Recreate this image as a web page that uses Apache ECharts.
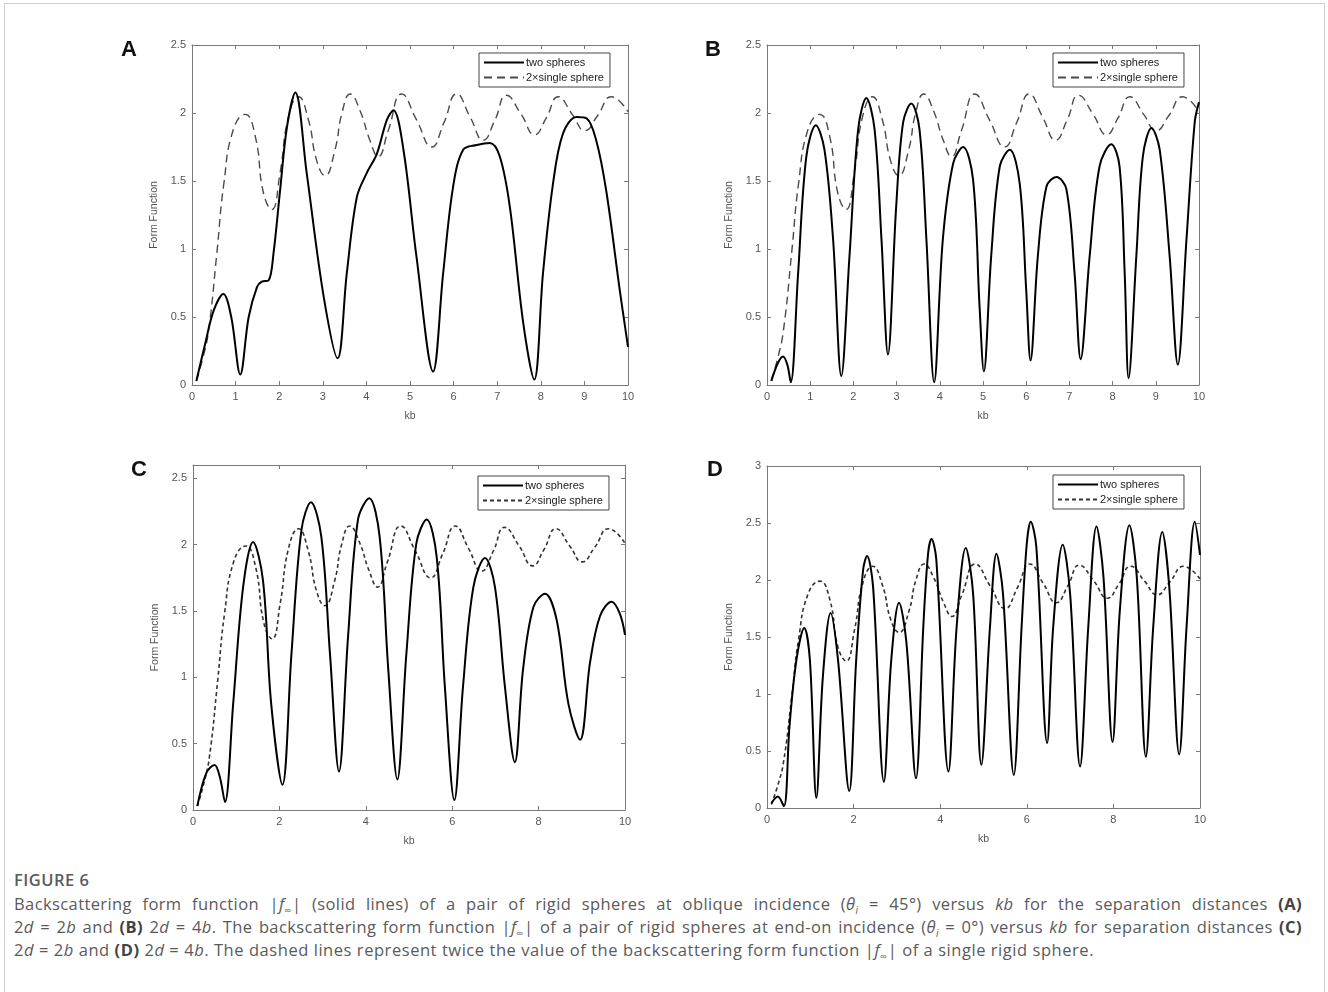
<!DOCTYPE html>
<html>
<head>
<meta charset="utf-8">
<script src="https://cdn.jsdelivr.net/npm/echarts@6/dist/echarts.min.js"></script>
<style>
  html, body { margin: 0; padding: 0; background: #fff; }
  body { width: 1328px; height: 992px; position: relative; overflow: hidden; }
  #frame { position: absolute; left: 4px; top: 3px; width: 1321px; height: 1000px; border: 1.5px solid #cfcfcf; box-sizing: border-box; }
  .panel { position: absolute; }
  #pA { left: 0; top: 0; width: 664px; height: 440px; }
  #pB { left: 664px; top: 0; width: 664px; height: 440px; }
  #pC { left: 0; top: 440px; width: 664px; height: 420px; }
  #pD { left: 664px; top: 440px; width: 664px; height: 420px; }
  .cap { position: absolute; left: 14px; width: 1288px; font-family: "Open Sans", Lato, sans-serif; color: #5a5a5a; font-size: 16.5px; letter-spacing: 0.55px; white-space: nowrap; }
  .cap.j { text-align: justify; text-align-last: justify; white-space: normal; letter-spacing: 0.4px; }
  .cap b { color: #444; }
  .cap sub { font-size: 10px; }
  #figt { top: 868px; font-size: 16.5px; font-weight: 600; letter-spacing: 0.5px; }
  #l1 { top: 892px; }
  #l2 { top: 915px; }
  #l3 { top: 938px; }
</style>
</head>
<body>
<div id="frame"></div>
<div id="pA" class="panel"></div>
<div id="pB" class="panel"></div>
<div id="pC" class="panel"></div>
<div id="pD" class="panel"></div>
<div id="figt" class="cap">FIGURE 6</div>
<div id="l1" class="cap j">Backscattering form function |<i>f</i><sub>∞</sub>| (solid lines) of a pair of rigid spheres at oblique incidence (<i>θ<sub>i</sub></i> = 45°) versus <i>kb</i> for the separation distances <b>(A)</b></div>
<div id="l2" class="cap j">2<i>d</i> = 2<i>b</i> and <b>(B)</b> 2<i>d</i> = 4<i>b</i>. The backscattering form function |<i>f</i><sub>∞</sub>| of a pair of rigid spheres at end-on incidence (<i>θ<sub>i</sub></i> = 0°) versus <i>kb</i> for separation distances <b>(C)</b></div>
<div id="l3" class="cap">2<i>d</i> = 2<i>b</i> and <b>(D)</b> 2<i>d</i> = 4<i>b</i>. The dashed lines represent twice the value of the backscattering form function |<i>f</i><sub>∞</sub>| of a single rigid sphere.</div>
<script>
// ---- data (kb, form function) ----
const seriesNames = ['two spheres', '2×single sphere'];
const panelLetters = ['A', 'B', 'C', 'D'];

const singleSphere2x = [[0.1,0.03],[0.25,0.2],[0.38,0.40],[0.57,0.97],[0.73,1.48],[0.95,1.88],[1.22,1.99],[1.45,1.83],[1.64,1.41],[1.83,1.29],[2.02,1.56],[2.21,1.97],[2.44,2.12],[2.67,1.95],[2.86,1.65],[3.05,1.54],[3.28,1.73],[3.44,2.0],[3.63,2.14],[3.85,2.02],[4.08,1.80],[4.27,1.68],[4.50,1.87],[4.81,2.14],[5.15,1.95],[5.50,1.75],[5.78,1.93],[6.07,2.14],[6.38,1.97],[6.68,1.80],[6.95,1.95],[7.21,2.13],[7.55,1.99],[7.86,1.84],[8.12,1.96],[8.40,2.12],[8.72,1.99],[9.01,1.87],[9.30,1.98],[9.62,2.12],[10,2.01]];

const twoSpheresA = [[0.1,0.03],[0.3,0.3],[0.5,0.55],[0.72,0.67],[0.9,0.5],[1.107,0.078],[1.3,0.5],[1.49,0.72],[1.6,0.76],[1.76,0.77],[1.87,0.97],[2.02,1.43],[2.18,1.90],[2.37,2.15],[2.63,1.56],[3.02,0.65],[3.34,0.196],[3.55,0.82],[3.78,1.38],[4.01,1.56],[4.24,1.70],[4.47,1.95],[4.62,2.02],[4.85,1.73],[5.15,0.94],[5.53,0.10],[5.76,0.82],[5.99,1.46],[6.22,1.73],[6.53,1.765],[6.83,1.78],[7.06,1.68],[7.29,1.31],[7.60,0.45],[7.85,0.04],[8.05,0.82],[8.28,1.48],[8.51,1.85],[8.82,1.97],[9.05,1.96],[9.27,1.80],[9.50,1.43],[9.81,0.70],[10,0.28]];

const twoSpheresB = [[0.1,0.03],[0.25,0.16],[0.37,0.21],[0.47,0.15],[0.55,0.02],[0.72,0.82],[0.91,1.68],[1.13,1.91],[1.33,1.73],[1.53,1.07],[1.72,0.066],[1.91,0.95],[2.11,1.88],[2.30,2.11],[2.49,1.88],[2.65,1.07],[2.80,0.225],[2.99,1.31],[3.15,1.93],[3.34,2.07],[3.53,1.88],[3.69,1.07],[3.87,0.02],[4.07,1.07],[4.31,1.63],[4.54,1.75],[4.77,1.51],[4.92,0.58],[5.02,0.10],[5.19,0.95],[5.39,1.61],[5.62,1.73],[5.85,1.48],[6.00,0.70],[6.10,0.18],[6.27,0.95],[6.47,1.46],[6.70,1.53],[6.93,1.44],[7.12,0.82],[7.26,0.19],[7.47,0.95],[7.70,1.61],[7.97,1.77],[8.16,1.61],[8.28,0.82],[8.37,0.05],[8.55,0.95],[8.70,1.68],[8.90,1.89],[9.09,1.73],[9.32,0.95],[9.51,0.15],[9.71,1.07],[9.90,1.93],[10,2.08]];

const twoSpheresC = [[0.1,0.03],[0.31,0.28],[0.50,0.34],[0.62,0.25],[0.74,0.06],[0.93,0.80],[1.16,1.68],[1.39,2.02],[1.62,1.73],[1.81,0.80],[2.07,0.19],[2.28,1.18],[2.51,2.11],[2.73,2.32],[2.97,2.06],[3.17,1.18],[3.38,0.29],[3.59,1.31],[3.82,2.19],[4.08,2.35],[4.32,2.06],[4.52,1.06],[4.73,0.23],[4.94,1.18],[5.17,2.01],[5.41,2.19],[5.64,1.91],[5.83,0.93],[6.05,0.075],[6.25,0.93],[6.49,1.68],[6.76,1.90],[6.99,1.68],[7.22,0.93],[7.45,0.36],[7.64,1.06],[7.88,1.53],[8.15,1.63],[8.42,1.43],[8.69,0.80],[8.96,0.53],[9.19,1.11],[9.42,1.46],[9.69,1.57],[9.88,1.48],[10,1.32]];

const twoSpheresD = [[0.1,0.04],[0.25,0.10],[0.39,0.015],[0.52,0.72],[0.68,1.30],[0.86,1.58],[0.99,1.30],[1.14,0.09],[1.29,1.15],[1.47,1.71],[1.64,1.30],[1.90,0.15],[2.06,1.30],[2.22,2.09],[2.31,2.21],[2.45,1.94],[2.70,0.23],[2.87,1.30],[3.05,1.80],[3.22,1.45],[3.44,0.26],[3.61,1.59],[3.72,2.23],[3.80,2.36],[3.91,2.18],[4.19,0.32],[4.38,1.59],[4.59,2.28],[4.76,1.88],[4.95,0.38],[5.15,1.59],[5.30,2.23],[5.45,1.88],[5.70,0.29],[5.88,1.59],[6.00,2.32],[6.09,2.51],[6.22,2.29],[6.47,0.57],[6.61,1.59],[6.83,2.31],[7.00,1.88],[7.23,0.365],[7.42,1.59],[7.61,2.47],[7.77,2.03],[7.98,0.58],[8.15,1.74],[8.37,2.48],[8.54,2.03],[8.75,0.45],[8.92,1.59],[9.13,2.42],[9.29,1.94],[9.52,0.47],[9.69,1.59],[9.88,2.51],[10,2.22]];

// ---- axis settings per panel ----
const xIntervals = [1, 1, 2, 2];
const yMaxes = [2.5, 2.5, 2.6, 3];

const panels = [
  { id: 'pA', data: twoSpheresA, grid: { left: 192, top: 45, width: 436, height: 340 }, legend: { left: 479, top: 53 }, dash: [8, 5], dashColor: '#4a4a4a', dashWidth: 1.4, title: { left: 116, top: 34 } },
  { id: 'pB', data: twoSpheresB, grid: { left: 103, top: 45, width: 432, height: 340 }, legend: { left: 389, top: 53 }, dash: [8, 5], dashColor: '#4a4a4a', dashWidth: 1.4, title: { left: 36, top: 34 } },
  { id: 'pC', data: twoSpheresC, grid: { left: 193, top: 25, width: 432, height: 345 }, legend: { left: 478, top: 36 }, dash: [4, 3], dashColor: '#333', dashWidth: 1.6, title: { left: 126, top: 14 } },
  { id: 'pD', data: twoSpheresD, grid: { left: 103, top: 26, width: 433, height: 342 }, legend: { left: 389, top: 35 }, dash: [4, 3], dashColor: '#333', dashWidth: 1.6, title: { left: 38, top: 14 } }
];

const axisGray = '#7a7a7a';
const labelStyle = { color: '#555', fontSize: 11, fontFamily: 'Liberation Sans, Arial, sans-serif' };

function xAxisCfg(i, pos) {
  const base = {
    type: 'value', min: 0, max: 10, interval: xIntervals[i], position: pos,
    axisLine: { show: true, onZero: false, lineStyle: { color: axisGray, width: 1 } },
    axisTick: { show: true, inside: true, length: 4, lineStyle: { color: axisGray } },
    splitLine: { show: false }
  };
  if (pos === 'bottom') {
    base.axisLabel = Object.assign({ margin: 6 }, labelStyle);
    base.name = 'kb';
    base.nameLocation = 'middle';
    base.nameGap = 26;
    base.nameTextStyle = Object.assign({}, labelStyle, { fontSize: 10.5 });
  } else {
    base.axisLabel = { show: false };
  }
  return base;
}
function yAxisCfg(i, pos) {
  const base = {
    type: 'value', min: 0, max: yMaxes[i], interval: 0.5, position: pos,
    axisLine: { show: true, onZero: false, lineStyle: { color: axisGray, width: 1 } },
    axisTick: { show: true, inside: true, length: 4, lineStyle: { color: axisGray } },
    splitLine: { show: false }
  };
  if (pos === 'left') {
    base.axisLabel = Object.assign({ margin: 6, showMaxLabel: yMaxes[i] % 0.5 === 0,
      formatter: v => (Math.abs(v / 0.5 - Math.round(v / 0.5)) < 1e-6 ? String(+v.toFixed(1)) : '') }, labelStyle);
    base.name = 'Form Function';
    base.nameLocation = 'middle';
    base.nameGap = 30;
    base.nameTextStyle = Object.assign({}, labelStyle, { fontSize: 10.5 });
  } else {
    base.axisLabel = { show: false };
  }
  return base;
}

panels.forEach((p, i) => {
  const chart = echarts.init(document.getElementById(p.id), null, { renderer: 'canvas' });
  chart.setOption({
    animation: false,
    backgroundColor: 'transparent',
    title: { text: panelLetters[i], left: p.title.left, top: p.title.top, textStyle: { fontSize: 22, fontWeight: 'bold', color: '#111', fontFamily: 'Liberation Sans, Arial, sans-serif' } },
    grid: p.grid,
    xAxis: [xAxisCfg(i, 'bottom'), xAxisCfg(i, 'top')],
    yAxis: [yAxisCfg(i, 'left'), yAxisCfg(i, 'right')],
    legend: {
      data: seriesNames, orient: 'vertical', left: p.legend.left, top: p.legend.top,
      backgroundColor: '#fff', borderColor: '#444', borderWidth: 1, padding: [4, 6, 4, 4], itemGap: 4,
      itemWidth: 40, itemHeight: 10, selectedMode: false,
      itemStyle: { opacity: 0 },
      textStyle: { fontSize: 11, color: '#222', fontFamily: 'Liberation Sans, Arial, sans-serif', padding: [0, 0, 0, -3] }
    },
    series: [
      { name: seriesNames[1], type: 'line', xAxisIndex: 0, yAxisIndex: 0, data: singleSphere2x, smooth: 0.5, symbol: 'none',
        lineStyle: { color: p.dashColor, width: p.dashWidth, type: p.dash }, itemStyle: { color: p.dashColor } },
      { name: seriesNames[0], type: 'line', xAxisIndex: 0, yAxisIndex: 0, data: p.data, smooth: 0.35, symbol: 'none',
        lineStyle: { color: '#000', width: 2 }, itemStyle: { color: '#000' } }
    ]
  });
});
</script>
</body>
</html>
